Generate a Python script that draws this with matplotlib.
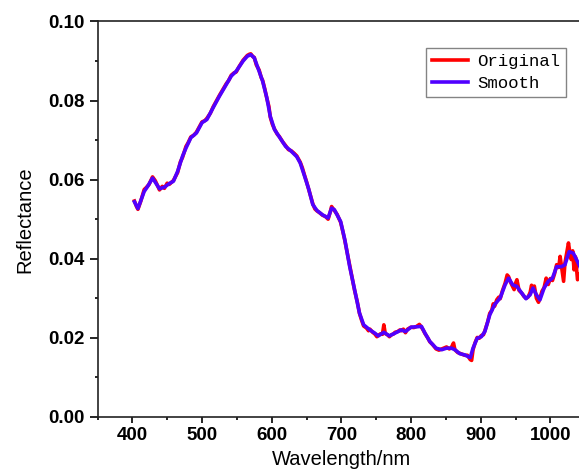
import matplotlib
matplotlib.use("Agg")
import matplotlib.pyplot as plt
from matplotlib.ticker import MultipleLocator

# smoothed spectrum (blue)
wl_smooth = [403, 408, 417, 422, 429, 439, 446, 453, 459, 465, 472, 477, 484, 492, 500,
             507, 516, 525, 535, 542, 549, 559, 565, 570, 575, 582, 587, 593, 598, 604,
             611, 620, 628, 636, 641, 647, 653, 659, 665, 673, 681, 686, 690, 699, 705,
             712, 719, 726, 732, 741, 748, 753, 761, 769, 777, 786, 792, 800, 808, 815,
             820, 827, 836, 844, 851, 858, 863, 870, 877, 885, 889, 895, 901, 906, 913,
             920, 928, 935, 940, 946, 952, 959, 965, 971, 975, 980, 985, 991, 997, 1003,
             1009, 1016, 1021, 1027, 1033, 1040, 1045]
refl_smooth = [0.0544, 0.0527, 0.0570, 0.0583, 0.0604, 0.0577, 0.0581, 0.0590, 0.0596, 0.0621,
               0.0659, 0.0680, 0.0706, 0.0718, 0.0744, 0.0752, 0.0782, 0.0811, 0.0841, 0.0862,
               0.0874, 0.0900, 0.0912, 0.0916, 0.0908, 0.0874, 0.0849, 0.0807, 0.0760, 0.0727,
               0.0708, 0.0684, 0.0672, 0.0658, 0.0642, 0.0610, 0.0577, 0.0537, 0.0522, 0.0511,
               0.0503, 0.0528, 0.0524, 0.0494, 0.0448, 0.0380, 0.0322, 0.0263, 0.0233, 0.0220,
               0.0212, 0.0205, 0.0214, 0.0205, 0.0212, 0.0220, 0.0216, 0.0227, 0.0228, 0.0229,
               0.0212, 0.0191, 0.0174, 0.0170, 0.0174, 0.0174, 0.0170, 0.0160, 0.0157, 0.0150,
               0.0174, 0.0199, 0.0203, 0.0216, 0.0258, 0.0284, 0.0301, 0.0334, 0.0351, 0.0334,
               0.0330, 0.0313, 0.0299, 0.0309, 0.0326, 0.0309, 0.0296, 0.0326, 0.0343, 0.0351,
               0.0380, 0.0380, 0.0385, 0.0418, 0.0414, 0.0389, 0.0370]

# raw spectrum (red)
wl_orig = [403, 406, 408, 412, 417, 420, 424, 429, 433, 439, 443, 446, 450, 453, 459,
           465, 469, 472, 477, 480, 484, 488, 492, 496, 500, 504, 507, 512, 516, 520,
           525, 530, 535, 538, 542, 546, 549, 553, 559, 562, 565, 568, 570, 573, 575,
           578, 582, 585, 587, 590, 593, 596, 598, 601, 604, 608, 611, 616, 620, 624,
           628, 632, 636, 641, 644, 647, 650, 653, 656, 659, 662, 665, 669, 673, 677,
           681, 684, 686, 688, 690, 694, 699, 702, 705, 709, 712, 716, 719, 723, 726,
           729, 732, 736, 739, 741, 745, 748, 751, 753, 756, 759, 761, 763, 766, 769,
           772, 775, 777, 781, 784, 786, 789, 792, 795, 798, 800, 804, 808, 812, 815,
           818, 820, 824, 827, 831, 836, 840, 844, 848, 851, 855, 858, 861, 863, 867,
           870, 874, 877, 881, 885, 887, 889, 892, 895, 898, 901, 904, 906, 910, 913,
           916, 918, 920, 923, 926, 928, 931, 935, 938, 940, 943, 946, 948, 950, 952,
           955, 959, 962, 965, 968, 971, 973, 975, 977, 980, 983, 985, 988, 991, 994,
           997, 1000, 1003, 1006, 1009, 1012, 1014, 1016, 1019, 1021, 1024, 1026, 1028, 1030, 1032,
           1034, 1036, 1039, 1042]
refl_orig = [0.0546, 0.0532, 0.0525, 0.0545, 0.0575, 0.0580, 0.0588, 0.0607, 0.0597, 0.0574,
             0.0583, 0.0578, 0.0591, 0.0588, 0.0598, 0.0618, 0.0645, 0.0656, 0.0684, 0.0693,
             0.0708, 0.0712, 0.0720, 0.0733, 0.0746, 0.0749, 0.0755, 0.0768, 0.0784, 0.0797,
             0.0813, 0.0828, 0.0843, 0.0850, 0.0864, 0.0870, 0.0872, 0.0885, 0.0902, 0.0908,
             0.0914, 0.0917, 0.0918, 0.0911, 0.0909, 0.0890, 0.0877, 0.0858, 0.0851, 0.0830,
             0.0806, 0.0785, 0.0758, 0.0740, 0.0728, 0.0715, 0.0709, 0.0695, 0.0686, 0.0676,
             0.0673, 0.0667, 0.0660, 0.0644, 0.0630, 0.0612, 0.0595, 0.0576, 0.0557, 0.0539,
             0.0526, 0.0521, 0.0516, 0.0510, 0.0507, 0.0500, 0.0518, 0.0532, 0.0527, 0.0522,
             0.0512, 0.0492, 0.0470, 0.0446, 0.0410, 0.0382, 0.0348, 0.0320, 0.0290, 0.0262,
             0.0245, 0.0230, 0.0225, 0.0218, 0.0222, 0.0214, 0.0210, 0.0203, 0.0206, 0.0210,
             0.0209, 0.0233, 0.0211, 0.0208, 0.0203, 0.0208, 0.0210, 0.0214, 0.0216, 0.0220,
             0.0218, 0.0222, 0.0213, 0.0222, 0.0225, 0.0227, 0.0226, 0.0229, 0.0234, 0.0227,
             0.0218, 0.0211, 0.0200, 0.0190, 0.0183, 0.0172, 0.0169, 0.0172, 0.0175, 0.0177,
             0.0172, 0.0176, 0.0187, 0.0170, 0.0163, 0.0161, 0.0158, 0.0156, 0.0156, 0.0145,
             0.0143, 0.0170, 0.0188, 0.0201, 0.0199, 0.0206, 0.0208, 0.0218, 0.0240, 0.0262,
             0.0270, 0.0286, 0.0280, 0.0296, 0.0303, 0.0299, 0.0318, 0.0338, 0.0359, 0.0355,
             0.0340, 0.0329, 0.0322, 0.0338, 0.0347, 0.0320, 0.0313, 0.0305, 0.0300, 0.0303,
             0.0315, 0.0333, 0.0320, 0.0331, 0.0300, 0.0290, 0.0300, 0.0318, 0.0327, 0.0351,
             0.0335, 0.0350, 0.0345, 0.0362, 0.0385, 0.0378, 0.0406, 0.0380, 0.0343, 0.0390,
             0.0420, 0.0440, 0.0415, 0.0398, 0.0420, 0.0372, 0.0405, 0.0347, 0.0360]

plt.rcParams["font.family"] = ["Liberation Sans", "DejaVu Sans"]

fig = plt.figure(figsize=(5.79, 4.76), dpi=100)
ax = fig.add_axes([0.1684, 0.124, 0.8423, 0.831])

ax.plot(wl_orig, refl_orig, color="#FF0000", lw=2.6, label="Original")
ax.plot(wl_smooth, refl_smooth, color="#5000FF", lw=2.6, label="Smooth")

ax.set_xlim(350, 1050)
ax.set_ylim(0, 0.10)
ax.xaxis.set_minor_locator(MultipleLocator(50))
ax.yaxis.set_minor_locator(MultipleLocator(0.01))
ax.set_xticks(range(400, 1001, 100))
ax.set_yticks([0.0, 0.02, 0.04, 0.06, 0.08, 0.10])
ax.set_yticklabels(["0.00", "0.02", "0.04", "0.06", "0.08", "0.10"])

for sp in ax.spines.values():
    sp.set_linewidth(1.2)
    sp.set_color("#222")
ax.spines["right"].set_visible(False)

ax.tick_params(axis="both", which="major", direction="out", width=1.2, labelsize=13.5)
ax.tick_params(axis="x", which="major", length=4)
ax.tick_params(axis="y", which="major", length=5.5)
ax.tick_params(axis="both", which="minor", direction="out", width=1.2, length=2.5)
for lab in ax.get_xticklabels() + ax.get_yticklabels():
    lab.set_fontweight("bold")

ax.set_xlabel("Wavelength/nm", fontsize=14.5, labelpad=4)
ax.set_ylabel("Reflectance", fontsize=14.5, labelpad=10)

leg = ax.legend(loc="upper right", bbox_to_anchor=(0.9606, 0.9337), borderaxespad=0,
                fancybox=False, frameon=True, handlelength=2.1, handletextpad=0.5,
                borderpad=0.35, labelspacing=0.4,
                prop={"family": ["Liberation Mono", "DejaVu Sans Mono"], "size": 12.5})
leg.get_frame().set_edgecolor("#666")
leg.get_frame().set_linewidth(1.0)
for line in leg.get_lines():
    line.set_linewidth(2.6)

fig.savefig("out.png", dpi=100)
